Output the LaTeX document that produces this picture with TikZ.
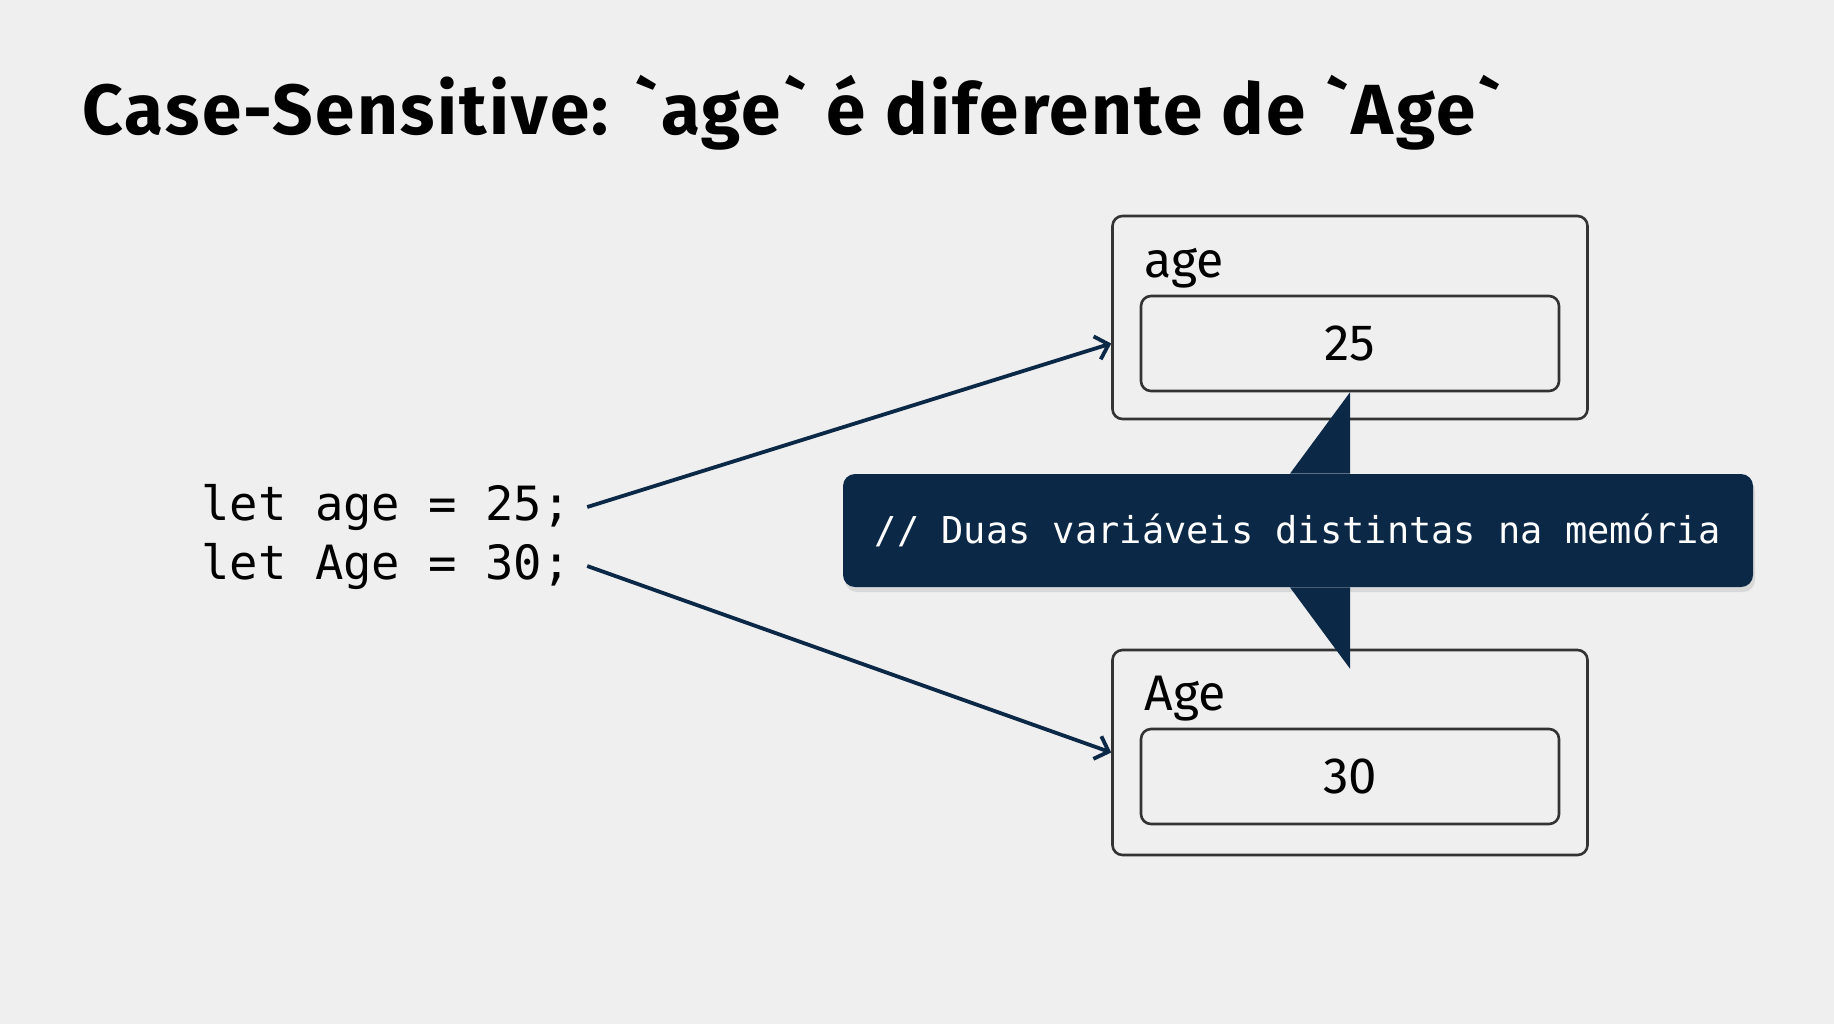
\documentclass[tikz,border=0pt]{standalone}
\usepackage{fontspec}
\setmainfont{Fira Sans}
\newfontfamily\titlefont[LetterSpace=3.4]{Fira Sans}
\newfontfamily\codefont{DejaVu Sans Mono}
\usetikzlibrary{positioning,shadows,arrows.meta}
\definecolor{bgcol}{HTML}{EFEFEF}
\definecolor{navy}{HTML}{0B2847}
\definecolor{boxline}{HTML}{333333}
\begin{document}
\begin{tikzpicture}[x=0.5pt,y=-0.5pt,
  outerbox/.style={draw=boxline,line width=1.3pt,rounded corners=5pt,minimum width=237.5pt,inner sep=0pt},
  valbox/.style={draw=boxline,line width=1.3pt,rounded corners=5pt,minimum width=209pt,minimum height=47.5pt,
    font=\fontsize{25.5}{30}\selectfont,text=black},
  varname/.style={anchor=base west,inner sep=0pt,font=\fontsize{25}{30}\selectfont},
  codeline/.style={anchor=base west,inner sep=0pt,font=\codefont\fontsize{23.6}{28}\selectfont},
  link/.style={navy,line width=1.9pt,-{Straight Barb[length=6pt,width=12pt]}}]

% background
  \fill[bgcol] (0,0) rectangle (1834,1024);
  \useasboundingbox (0,0) rectangle (1834,1024);

% title
  \node[anchor=base west,inner sep=0pt,font=\titlefont\bfseries\fontsize{35.5}{42}\selectfont] (title) at (82,134)
    {Case-Sensitive: `age` é diferente de `Age`};

% code
  \node[codeline] (code1) at (201,520) {let age = 25;};
  \node[codeline] (code2) at (201,579) {let Age = 30;};

% memory boxes
  \node[outerbox,minimum height=101.5pt] (agebox) at (1350,317.5) {};
  \node[valbox] (ageval) at (1350,343.5) {25};
  \node[varname] (agename) at (1144,277) {age};

  \node[outerbox,minimum height=102.5pt] (Agebox) at (1350,752.5) {};
  \node[valbox] (Ageval) at (1350,776.5) {30};
  \node[varname] (Agename) at (1144,710) {Age};

% arrows
  \draw[link] ([xshift=8pt]code1.east) -- (agebox.west |- ageval.center);
  \draw[link] ([xshift=8pt]code2.east) -- (Agebox.west);

% callout
  \node[fill=navy,rounded corners=6pt,minimum width=455pt,minimum height=56.5pt,text=white,
    drop shadow={opacity=0.2,shadow xshift=1pt,shadow yshift=-2.5pt},
    font=\codefont\fontsize{18.5}{23}\selectfont] (note) at (1298,530.5)
    {// Duas variáveis distintas na memória};
  \fill[navy] (ageval.south) -- (ageval.south |- note.north) -- ([xshift=-30pt]ageval.south |- note.north) -- cycle;
  \fill[navy] ([yshift=-10pt]Agebox.north) -- (Agebox.north |- note.south) -- ([xshift=-30pt]Agebox.north |- note.south) -- cycle;
\end{tikzpicture}
\end{document}
